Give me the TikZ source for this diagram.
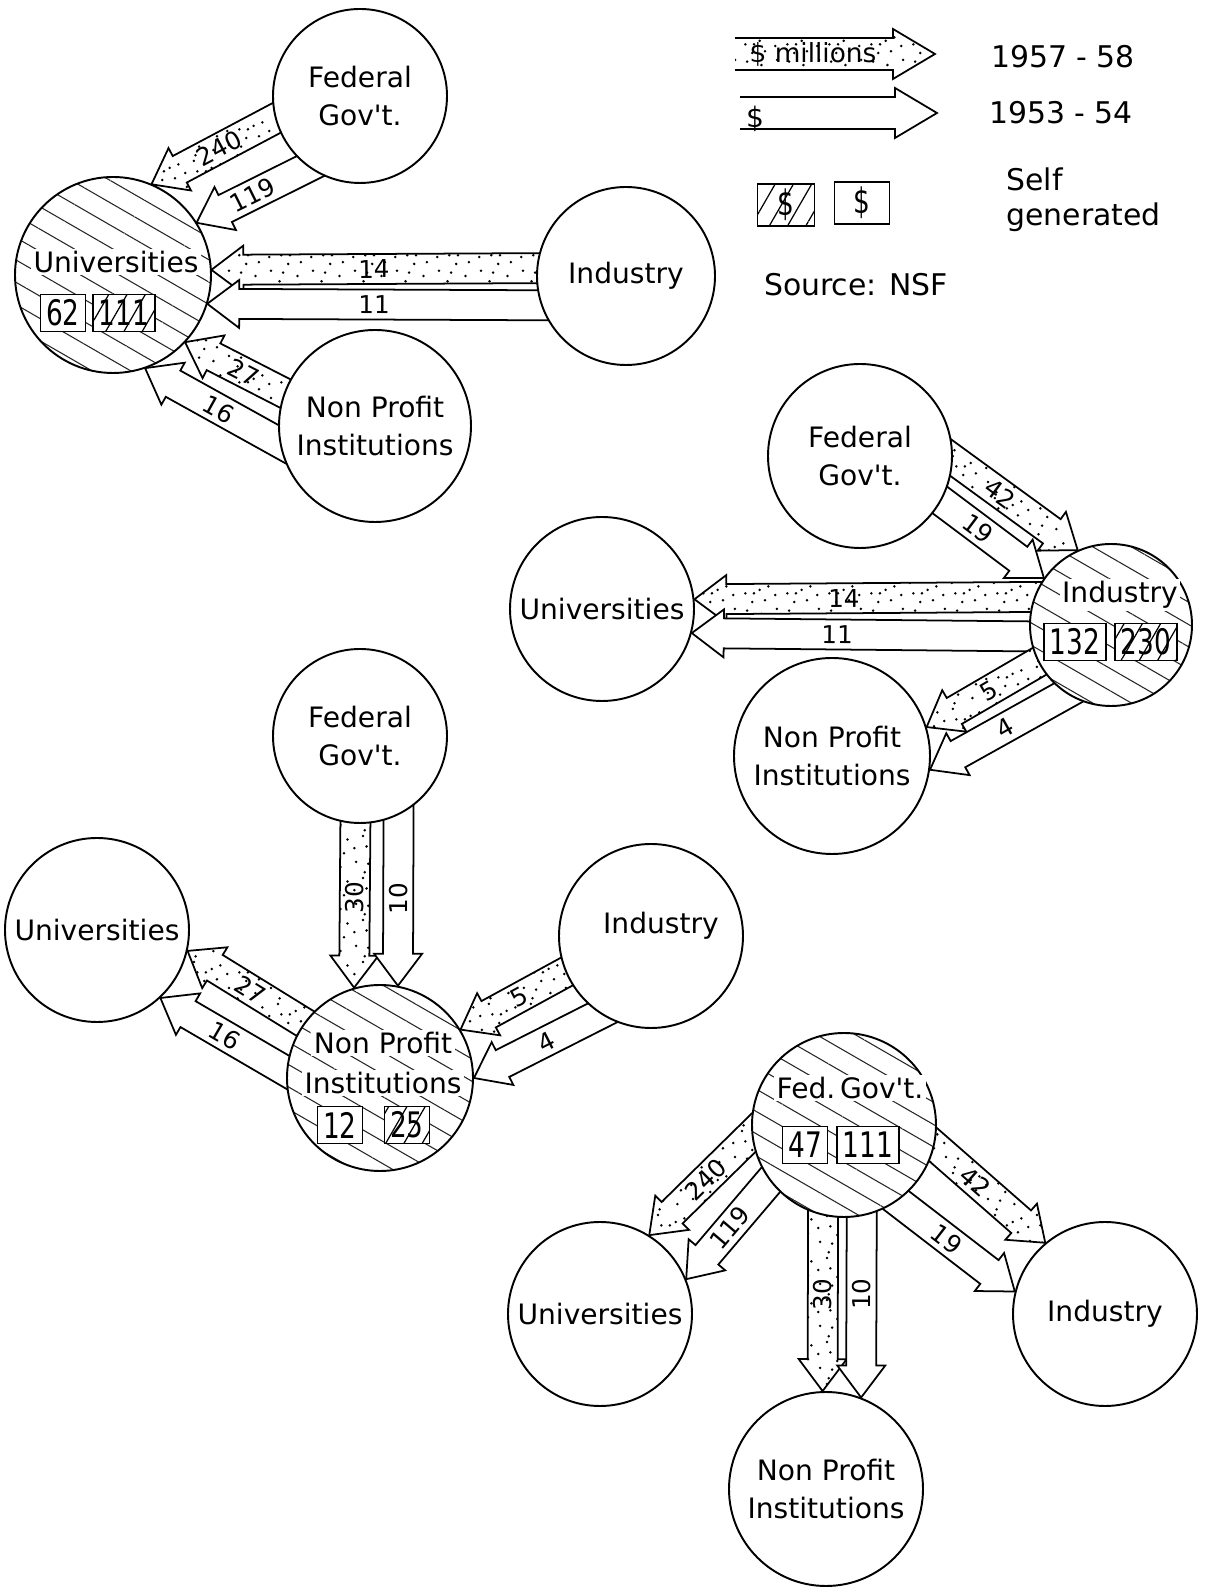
\documentclass[tikz,border=0pt]{standalone}
\usepackage{fontspec}
\setmainfont{DejaVu Sans}
\newfontfamily\boxfont[FakeStretch=0.75]{DejaVu Sans}
\usetikzlibrary{calc, positioning, patterns.meta}

\tikzdeclarepattern{
    name=stipple,
    type=uncolored,
    bottom left={(0pt,0pt)},
    top right={(12pt,12pt)},
    tile size={(12pt,12pt)},
    code={
        \foreach \p in {(1pt,2pt), (5pt,7.5pt), (9pt,3pt), (3pt,10pt), (7.5pt,11pt), (11pt,8pt), (2pt,6pt), (8pt,0.5pt), (10.5pt,5.5pt), (5.5pt,3.5pt), (0.5pt,9pt), (8.5pt,8pt)}
            \fill \p circle (0.4pt);
    }
}

\pgfdeclarelayer{bg}
\pgfsetlayers{bg,main}

\tikzset{
    org/.style={circle, draw, line width=0.55pt, fill=white, minimum size=1.84cm, inner sep=0pt, align=center, font=\fontsize{8}{11}\selectfont},
    selfgen/.style={org, preaction={fill=white}, pattern={Lines[angle=-30, distance=5.5pt, line width=0.3pt]}, pattern color=black!85},
    lbl/.style={fill=white, inner sep=0.7pt, font=\fontsize{8}{11}\selectfont},
    valbox/.style={draw, line width=0.5pt, fill=white, inner xsep=1.6pt, inner ysep=1.5pt, minimum height=0.37cm, font=\boxfont\fontsize{10}{10}\selectfont},
    selfbox/.style={valbox, preaction={fill=white}, pattern={Lines[angle=60, distance=4.5pt, line width=0.35pt]}},
    yr58/.style={preaction={fill=white}, pattern=stipple},
    yr54/.style={fill=white},
    flowline/.style={line width=0.5pt, line join=miter},
    flowlbl/.style={font=\fontsize{7}{8}\selectfont, inner sep=0pt},
    keytxt/.style={font=\fontsize{8.5}{10}\selectfont, align=left}
}

% block arrow: [style]{from}{to}{label}{label pos}
\newcommand{\shaft}{0.15cm}
\newcommand{\headw}{0.24cm}
\newcommand{\headl}{0.32cm}
\newcommand{\tailx}{0.30cm}
\newcommand{\flow}[5][yr54]{%
    \coordinate (ft) at ($(#2)!-\tailx!(#3)$);
    \coordinate (fh) at (#3);
    \coordinate (fb) at ($(fh)!\headl!(ft)$);
    \path[#1] ($(ft)!\shaft!90:(fh)$) -- ($(fb)!\shaft!-90:(ft)$) -- ($(fb)!\headw!-90:(ft)$) -- (fh) -- ($(fb)!\headw!90:(ft)$) -- ($(fb)!\shaft!90:(ft)$) -- ($(ft)!\shaft!-90:(fh)$) -- cycle;
    \draw[flowline] ($(ft)!\shaft!90:(fh)$) -- ($(fb)!\shaft!-90:(ft)$) -- ($(fb)!\headw!-90:(ft)$) -- (fh) -- ($(fb)!\headw!90:(ft)$) -- ($(fb)!\shaft!90:(ft)$) -- ($(ft)!\shaft!-90:(fh)$);
    \path (#2) -- (#3) node[pos=#5, sloped, flowlbl] {#4};
}

\begin{document}
\begin{tikzpicture}
    \useasboundingbox (0,0) rectangle (12.05,15.90);

    % Universities
    \node[selfgen, minimum size=1.96cm] (U1) at (1.13,13.15) {};
    \node[org, minimum size=1.74cm] (F1) at (3.60,14.94) {Federal\\Gov\textquotesingle t.};
    \node[org, minimum size=1.78cm] (I1) at (6.26,13.14) {Industry};
    \node[org, minimum size=1.92cm] (N1) at (3.75,11.64) {Non Profit\\Institutions};
    \node[lbl] (U1t) at (1.16,13.28) {Universities};
    \node[valbox] (U1a) at (0.63,12.77) {62};
    \node[selfbox] (U1b) at (1.24,12.77) {111};

    % Industry
    \node[selfgen, minimum size=1.62cm] (I2) at (11.11,9.65) {};
    \node[org] (F2) at (8.60,11.34) {Federal\\Gov\textquotesingle t.};
    \node[org] (U2) at (6.02,9.81) {Universities};
    \node[org, minimum size=1.96cm] (N2) at (8.32,8.34) {Non Profit\\Institutions};
    \node[lbl] (I2t) at (11.20,9.95) {Industry};
    \node[valbox] (I2a) at (10.75,9.48) {132};
    \node[selfbox] (I2b) at (11.46,9.48) {230};

    % Non Profit Institutions
    \node[selfgen, minimum size=1.86cm] (N3) at (3.80,5.12) {};
    \node[org, minimum size=1.74cm] (F3) at (3.60,8.54) {Federal\\Gov\textquotesingle t.};
    \node[org] (U3) at (0.97,6.60) {Universities};
    \node[org] (I3) at (6.51,6.54) {\hspace*{0.2cm}Industry\\[-3.6pt]};
    \node[lbl] (N3t) at (3.83,5.47) {Non Profit};
    \node[lbl] (N3u) at (3.83,5.07) {Institutions};
    \node[valbox] (N3a) at (3.40,4.65) {12};
    \node[selfbox] (N3b) at (4.07,4.65) {25};

    % Federal Government
    \node[selfgen] (F4) at (8.44,4.65) {};
    \node[org] (U4) at (6.00,2.76) {Universities};
    \node[org] (I4) at (11.05,2.76) {Industry};
    \node[org, minimum size=1.94cm] (N4) at (8.26,1.01) {Non Profit\\Institutions};
    \node[lbl] (F4t) at (8.50,5.02) {Fed.\,Gov\textquotesingle t.};
    \node[valbox] (F4a) at (8.05,4.45) {47};
    \node[valbox] (F4b) at (8.68,4.45) {111};

    % Flows
    \begin{pgfonlayer}{bg}
        \flow[yr58]{F1.195}{U1.67}{240}{0.45}
        \flow[yr54]{F1.234}{U1.32}{119}{0.5}
        \flow[yr58]{I1.175}{U1.3}{14}{0.5}
        \flow[yr54]{I1.199}{U1.343}{11}{0.5}
        \flow[yr58]{N1.160}{U1.317}{27}{0.41}
        \flow[yr54]{N1.190}{U1.289}{16}{0.45}

        \flow[yr58]{F2.358}{I2.114}{42}{0.38}
        \flow[yr54]{F2.331}{I2.145}{19}{0.36}
        \flow[yr58]{I2.160}{U2.6}{14}{0.56}
        \flow[yr54]{I2.188}{U2.345}{11}{0.57}
        \flow[yr58]{I2.207}{N2.17}{5}{0.44}
        \flow[yr54]{I2.237}{N2.352}{4}{0.45}

        \flow[yr58]{F3.267}{N3.106}{30}{0.45}
        \flow[yr54]{F3.296}{N3.79}{10}{0.49}
        \flow[yr58]{N3.144}{U3.347}{27}{0.46}
        \flow[yr54]{N3.176}{U3.313}{16}{0.49}
        \flow[yr58]{I3.203}{N3.31}{5}{0.44}
        \flow[yr54]{I3.237}{N3.0}{4}{0.43}

        \flow[yr58]{F4.186}{U4.58}{240}{0.45}
        \flow[yr54]{F4.217}{U4.22}{119}{0.48}
        \flow[yr58]{F4.257}{N4.92}{30}{0.45}
        \flow[yr54]{F4.281}{N4.69}{10}{0.43}
        \flow[yr58]{F4.347}{I4.130}{42}{0.37}
        \flow[yr54]{F4.305}{I4.166}{19}{0.42}
    \end{pgfonlayer}

    % Key
    \coordinate (k58a) at (7.35,15.36);
    \coordinate (k58b) at (9.35,15.36);
    \coordinate (k54a) at (7.40,14.77);
    \coordinate (k54b) at (9.37,14.77);
    {\renewcommand{\shaft}{0.16cm}\renewcommand{\headw}{0.25cm}\renewcommand{\headl}{0.42cm}\renewcommand{\tailx}{0cm}
    \flow[yr58]{k58a}{k58b}{\raisebox{-1.2pt}{\fontsize{7.5}{9}\selectfont\$ millions}}{0.39}
    \flow[yr54]{k54a}{k54b}{}{0.5}}
    \node[flowlbl, font=\fontsize{8}{9}\selectfont] (k54s) at (7.55,14.71) {\$};
    \node[keytxt] (k58) at (10.63,15.33) {1957 - 58};
    \node[keytxt] (k54) at (10.61,14.77) {1953 - 54};
    \node[selfbox, minimum width=0.57cm, minimum height=0.40cm] (kbox58) at (7.86,13.85) {\$};
    \node[valbox, minimum width=0.55cm, minimum height=0.41cm] (kbox54) at (8.62,13.87) {\$};
    \node[keytxt, anchor=west] (kself) at (9.94,13.90) {Self\\generated};
    \node[keytxt] (ksrc) at (8.56,13.05) {Source: NSF};
\end{tikzpicture}
\end{document}
